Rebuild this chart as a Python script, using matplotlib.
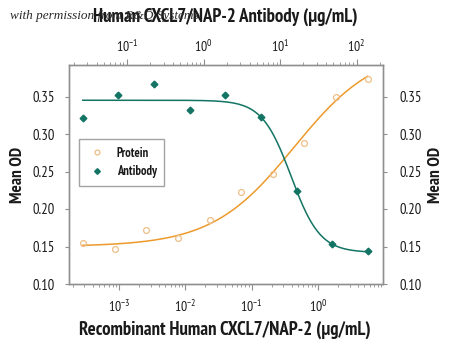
import numpy as np
import matplotlib
matplotlib.use("Agg")
import matplotlib.pyplot as plt
from matplotlib.ticker import LogLocator, NullFormatter, FixedLocator, FixedFormatter
from matplotlib import font_manager

# ---------------- data ----------------
protein_conc = [0.000282, 0.000867, 0.00255, 0.00766, 0.0233, 0.0697, 0.207, 0.621, 1.87, 5.62]
protein_od = [0.155, 0.147, 0.172, 0.161, 0.185, 0.223, 0.247, 0.288, 0.349, 0.373]
antibody_conc = [0.0264, 0.0769, 0.223, 0.667, 1.93, 5.65, 16.5, 48.3, 140.0]
antibody_od = [0.322, 0.352, 0.367, 0.332, 0.352, 0.323, 0.224, 0.154, 0.144]
# 4-parameter logistic fit parameters: bottom, top, log10 EC50, hill
protein_fit = [0.150, 0.415, -0.36, 0.70]
antibody_fit = [0.142, 0.345, 1.145, 2.30]
yticks = [0.10, 0.15, 0.20, 0.25, 0.30, 0.35]
bottom_decades = [-3, -2, -1, 0]
top_decades = [-1, 0, 1, 2]

names = {f.name for f in font_manager.fontManager.ttflist}
fam = "DejaVu Sans"
for cand in ["PT Sans Narrow", "Fira Sans Condensed", "Roboto Condensed", "Open Sans Condensed",
             "Encode Sans Condensed", "Asap Condensed", "Barlow Semi Condensed",
             "Liberation Sans Narrow", "Arial Narrow", "Liberation Sans"]:
    if cand in names:
        fam = cand
        break
plt.rcParams["font.family"] = [fam, "DejaVu Sans"]
plt.rcParams["mathtext.fontset"] = "custom"
plt.rcParams["mathtext.rm"] = fam
plt.rcParams["mathtext.it"] = fam
plt.rcParams["mathtext.bf"] = fam + ":bold"

orange = "#EC9A2C"
orange_light = "#EDBE86"
teal = "#137464"
spine_c = "#8f8f8f"
text_c = "#1a1a1a"

W, H = 450, 352
fig = plt.figure(figsize=(4.5, 3.52), dpi=100)
ax = fig.add_axes([69/W, 1-284/H, (383-69)/W, (284-65)/H])
ax.set_xscale("log")
ax.set_xlim(10**-3.755, 10**0.98)
ax.set_ylim(0.10, 0.392)

axt = ax.twiny()
axt.set_xscale("log")
axt.set_xlim(10**-1.758, 10**2.346)
axr = ax.twinx()
axr.set_ylim(ax.get_ylim())

def up(x, p):
    b, t, c, h = p
    return b + (t - b) / (1 + 10 ** (h * (c - np.log10(x))))

def down(x, p):
    b, t, c, h = p
    return b + (t - b) / (1 + 10 ** (h * (np.log10(x) - c)))

xp = np.logspace(np.log10(protein_conc[0]), np.log10(protein_conc[-1]), 300)
ax.plot(xp, up(xp, protein_fit), color=orange, lw=1.1, zorder=2)
ax.plot(protein_conc, protein_od, linestyle="none", marker="o", ms=4.2, mfc="none",
        mec=orange_light, mew=0.9, zorder=3, label="Protein")

xa = np.logspace(np.log10(antibody_conc[0]), np.log10(antibody_conc[-1]), 300)
axt.plot(xa, down(xa, antibody_fit), color=teal, lw=1.1, zorder=2)
axt.plot(antibody_conc, antibody_od, linestyle="none", marker="D", ms=3.4, color=teal,
         zorder=3, label="Antibody")

h1, l1 = ax.get_legend_handles_labels()
h2, l2 = axt.get_legend_handles_labels()
leg = axt.legend(h1 + h2, l1 + l2, loc="upper left", bbox_to_anchor=(0.032, 0.661),
                 borderaxespad=0, frameon=True, fancybox=False, edgecolor="#8c8c8c",
                 handletextpad=0.8, borderpad=0.6, labelspacing=0.45, handlelength=1.6,
                 markerscale=0.85, prop={"weight": "bold", "size": 9})
leg.get_frame().set_linewidth(1.0)
for t in leg.get_texts():
    t.set_color(text_c)

for a in (ax, axt, axr):
    for s in a.spines.values():
        s.set_color(spine_c)
        s.set_linewidth(0.9)

ax.set_yticks(yticks)
ax.set_yticklabels([f"{v:.2f}" for v in yticks])
axr.set_yticks(yticks)
axr.set_yticklabels([f"{v:.2f}" for v in yticks])

for a, dec in ((ax, bottom_decades), (axt, top_decades)):
    a.xaxis.set_major_locator(FixedLocator([10.0**d for d in dec]))
    a.xaxis.set_major_formatter(FixedFormatter([f"$10^{{{d}}}$" for d in dec]))
    a.xaxis.set_minor_locator(LogLocator(base=10, subs=np.arange(2, 10), numticks=20))
    a.xaxis.set_minor_formatter(NullFormatter())

ax.tick_params(axis="x", which="major", direction="out", length=4, width=0.8, color=spine_c,
               labelsize=10, pad=7, labelcolor=text_c)
ax.tick_params(axis="x", which="minor", direction="out", length=2.2, width=0.6, color=spine_c)
axt.tick_params(axis="x", which="major", direction="out", length=4, width=0.8, color=spine_c,
                labelsize=10, pad=3, labelcolor=text_c)
axt.tick_params(axis="x", which="minor", direction="out", length=2.2, width=0.6, color=spine_c)
ax.tick_params(axis="y", direction="out", length=3, width=0.8, color=spine_c, labelsize=10.5,
               pad=7, labelcolor=text_c)
axr.tick_params(axis="y", direction="out", length=3, width=0.8, color=spine_c, labelsize=10.5,
                pad=9, labelcolor=text_c)

fig.text(225/W, 1-330/H, "Recombinant Human CXCL7/NAP-2 (μg/mL)", fontsize=13.5,
         fontweight="bold", ha="center", va="center", color=text_c)
fig.text(225/W, 1-17/H, "Human CXCL7/NAP-2 Antibody (μg/mL)", fontsize=13.5,
         fontweight="bold", ha="center", va="center", color=text_c)
fig.text(18/W, 1-175/H, "Mean OD", fontsize=12.5, fontweight="bold", rotation=90,
         ha="center", va="center", color=text_c)
fig.text(436/W, 1-175/H, "Mean OD", fontsize=12.5, fontweight="bold", rotation=90,
         ha="center", va="center", color=text_c)

fig.text(10/W, 1-16/H, "with permission from R&D Systems", fontsize=9.5, style="italic",
         family=["Liberation Serif", "DejaVu Serif"], color="#2a2a2a", va="center", ha="left")

fig.savefig("out.png", dpi=100)
